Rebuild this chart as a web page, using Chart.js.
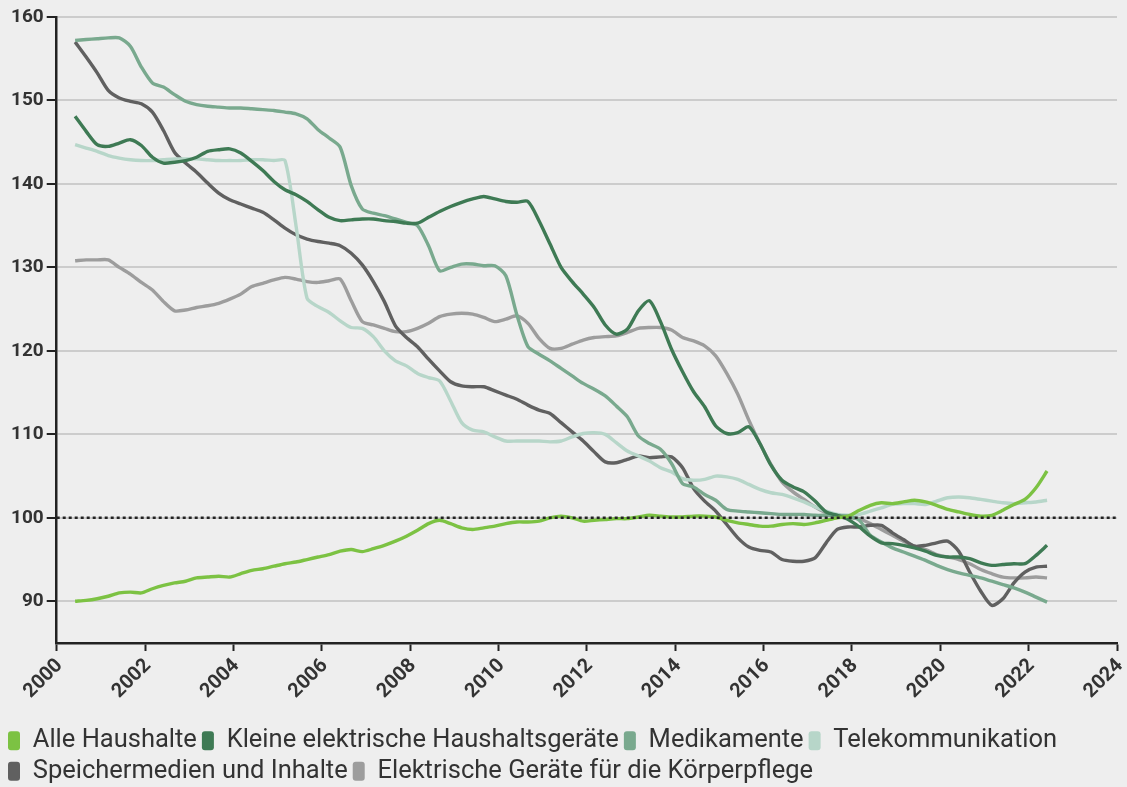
<!DOCTYPE html>
<html lang="de">
<head>
<meta charset="utf-8">
<title>Preisindex</title>
<script src="https://cdn.jsdelivr.net/npm/chart.js@4"></script>
<style>
  html, body { margin: 0; padding: 0; background: #eeeeee; overflow: hidden; }
  #wrap { width: 1127px; height: 787px; overflow: hidden; }
</style>
</head>
<body>
<div id="wrap"><canvas id="priceChart" width="1127" height="794"></canvas></div>
<script>
// Quartalswerte, Juni 2000 bis Juni 2022
const dates = [
  "2000-06", "2000-09", "2000-12",
  "2001-03", "2001-06", "2001-09", "2001-12",
  "2002-03", "2002-06", "2002-09", "2002-12",
  "2003-03", "2003-06", "2003-09", "2003-12",
  "2004-03", "2004-06", "2004-09", "2004-12",
  "2005-03", "2005-06", "2005-09", "2005-12",
  "2006-03", "2006-06", "2006-09", "2006-12",
  "2007-03", "2007-06", "2007-09", "2007-12",
  "2008-03", "2008-06", "2008-09", "2008-12",
  "2009-03", "2009-06", "2009-09", "2009-12",
  "2010-03", "2010-06", "2010-09", "2010-12",
  "2011-03", "2011-06", "2011-09", "2011-12",
  "2012-03", "2012-06", "2012-09", "2012-12",
  "2013-03", "2013-06", "2013-09", "2013-12",
  "2014-03", "2014-06", "2014-09", "2014-12",
  "2015-03", "2015-06", "2015-09", "2015-12",
  "2016-03", "2016-06", "2016-09", "2016-12",
  "2017-03", "2017-06", "2017-09", "2017-12",
  "2018-03", "2018-06", "2018-09", "2018-12",
  "2019-03", "2019-06", "2019-09", "2019-12",
  "2020-03", "2020-06", "2020-09", "2020-12",
  "2021-03", "2021-06", "2021-09", "2021-12",
  "2022-03", "2022-06"
];

const alleHaushalte = [
  90.0, 90.1, 90.3, 90.6, 91.0, 91.1, 91.0, 91.5, 91.9, 92.2,
  92.4, 92.8, 92.9, 93.0, 92.9, 93.3, 93.7, 93.9, 94.2, 94.5,
  94.7, 95.0, 95.3, 95.6, 96.0, 96.2, 95.95, 96.3, 96.7, 97.2,
  97.8, 98.5, 99.3, 99.7, 99.3, 98.8, 98.6, 98.8, 99.0, 99.3,
  99.5, 99.5, 99.6, 100.0, 100.2, 100.0, 99.6, 99.7, 99.8, 99.9,
  99.9, 100.1, 100.3, 100.2, 100.1, 100.1, 100.2, 100.2, 100.1, 99.7,
  99.4, 99.2, 99.0, 99.0, 99.2, 99.3, 99.2, 99.4, 99.7, 100.0,
  100.2, 100.9, 101.5, 101.8, 101.7, 101.9, 102.1, 101.9, 101.5, 101.0,
  100.7, 100.4, 100.2, 100.3, 100.9, 101.6, 102.2, 103.6, 105.6
];

const kleineGeraete = [
  148.1, 146.3, 144.7, 144.5, 144.9, 145.3, 144.6, 143.2, 142.5, 142.6,
  142.8, 143.2, 143.9, 144.1, 144.2, 143.7, 142.7, 141.6, 140.3, 139.3,
  138.7, 137.9, 136.9, 136.0, 135.6, 135.7, 135.8, 135.8, 135.6, 135.5,
  135.3, 135.3, 136.0, 136.7, 137.3, 137.8, 138.2, 138.5, 138.2, 137.9,
  137.8, 137.9, 135.6, 132.8, 130.0, 128.3, 126.8, 125.2, 123.1, 122.0,
  122.6, 124.8, 126.0, 123.5, 120.2, 117.5, 115.1, 113.3, 111.0, 110.1,
  110.2, 110.9, 108.9, 106.3, 104.5, 103.7, 103.1, 102.0, 100.7, 100.3,
  99.8, 98.9, 97.8, 97.0, 96.9, 96.7, 96.4, 96.0, 95.5, 95.3,
  95.3, 95.1, 94.6, 94.3, 94.4, 94.5, 94.5, 95.5, 96.7
];

const medikamente = [
  157.2, 157.3, 157.4, 157.5, 157.5, 156.5, 154.0, 152.1, 151.6, 150.7,
  149.9, 149.5, 149.3, 149.2, 149.1, 149.1, 149.0, 148.9, 148.8, 148.6,
  148.4, 147.8, 146.5, 145.5, 144.4, 139.8, 137.0, 136.5, 136.2, 135.8,
  135.4, 135.0, 132.6, 129.6, 130.0, 130.4, 130.4, 130.2, 130.2, 129.0,
  124.3, 120.5, 119.6, 118.8, 117.9, 117.0, 116.1, 115.4, 114.6, 113.4,
  112.1, 109.8, 108.9, 108.2, 106.5, 104.1, 103.7, 102.8, 102.1, 101.0,
  100.8, 100.7, 100.6, 100.5, 100.4, 100.4, 100.4, 100.3, 100.3, 100.3,
  100.2, 99.7, 97.9, 97.1, 96.4, 95.9, 95.4, 94.9, 94.3, 93.8,
  93.4, 93.1, 92.8, 92.4, 92.0, 91.6, 91.1, 90.5, 89.9
];

const telekommunikation = [
  144.7, 144.3, 143.9, 143.4, 143.1, 142.9, 142.8, 142.8, 142.9, 143.0,
  143.0, 143.0, 142.9, 142.8, 142.8, 142.8, 142.9, 142.9, 142.8, 142.8,
  135.0, 126.3, 125.3, 124.6, 123.6, 122.8, 122.7, 121.7, 120.0, 118.8,
  118.2, 117.3, 116.8, 116.4, 114.0, 111.4, 110.5, 110.3, 109.7, 109.2,
  109.2, 109.2, 109.2, 109.1, 109.2, 109.7, 110.1, 110.2, 110.0, 109.0,
  108.0, 107.4, 106.8, 106.0, 105.5, 104.7, 104.5, 104.6, 105.0, 104.9,
  104.6, 104.0, 103.4, 103.0, 102.8, 102.4, 101.9, 101.3, 100.8, 100.4,
  100.3, 100.4, 100.8, 101.2, 101.6, 101.7, 101.7, 101.6, 102.0, 102.4,
  102.5, 102.4, 102.2, 102.0, 101.8, 101.7, 101.8, 101.9, 102.1
];

const speichermedien = [
  157.0, 155.2, 153.3, 151.2, 150.3, 149.9, 149.6, 148.6, 146.4, 143.8,
  142.5, 141.4, 140.1, 138.9, 138.1, 137.6, 137.1, 136.6, 135.7, 134.7,
  133.9, 133.4, 133.1, 132.9, 132.6, 131.7, 130.3, 128.3, 125.9, 123.0,
  121.6, 120.5, 119.0, 117.6, 116.3, 115.8, 115.7, 115.7, 115.2, 114.7,
  114.2, 113.5, 112.9, 112.5, 111.4, 110.3, 109.2, 107.9, 106.7, 106.6,
  107.0, 107.4, 107.2, 107.3, 107.3, 106.0, 103.5, 102.0, 100.8, 99.2,
  97.6, 96.5, 96.1, 95.9, 95.0, 94.8, 94.8, 95.2, 97.0, 98.6,
  98.9, 98.9, 99.1, 99.1, 98.2, 97.4, 96.6, 96.7, 97.0, 97.2,
  96.0, 93.5, 91.2, 89.5, 90.3, 92.2, 93.5, 94.1, 94.2
];

const koerperpflege = [
  130.8, 130.9, 130.9, 130.9, 130.0, 129.2, 128.2, 127.3, 125.9, 124.8,
  124.9, 125.2, 125.4, 125.7, 126.2, 126.8, 127.7, 128.1, 128.5, 128.8,
  128.6, 128.3, 128.2, 128.4, 128.6, 126.0, 123.5, 123.1, 122.7, 122.3,
  122.3, 122.7, 123.3, 124.1, 124.4, 124.5, 124.4, 124.0, 123.5, 123.8,
  124.2, 123.3, 121.5, 120.3, 120.3, 120.8, 121.3, 121.6, 121.7, 121.8,
  122.2, 122.7, 122.8, 122.8, 122.5, 121.6, 121.2, 120.6, 119.4, 117.3,
  114.8, 111.7, 108.9, 106.4, 104.3, 103.1, 102.2, 101.3, 100.6, 100.1,
  100.0, 99.9, 99.3, 98.6, 97.9, 97.2, 96.6, 96.2, 95.6, 95.3,
  95.0, 94.5, 93.8, 93.3, 92.9, 92.8, 92.8, 92.9, 92.8
];

// Basisjahr-Linie (2018 = 100)
const baseYears = [2000, 2024];
const baseValue = 100;

const xValues = dates.map(d => {
  const [y, m] = d.split("-").map(Number);
  return y + (m - 1) / 12;
});
const toPoints = arr => arr.map((v, i) => ({ x: xValues[i], y: v }));

const series = [
  { label: "Alle Haushalte", data: alleHaushalte, color: "#7cc243" },
  { label: "Kleine elektrische Haushaltsgeräte", data: kleineGeraete, color: "#3e7a54" },
  { label: "Medikamente", data: medikamente, color: "#79a98e" },
  { label: "Telekommunikation", data: telekommunikation, color: "#b7d6c9" },
  { label: "Speichermedien und Inhalte", data: speichermedien, color: "#606060" },
  { label: "Elektrische Geräte für die Körperpflege", data: koerperpflege, color: "#9d9d9d" }
];

const datasets = [
  {
    label: "basis",
    data: baseYears.map(x => ({ x: x, y: baseValue })),
    borderColor: "#222",
    borderWidth: 2.5,
    borderDash: [3, 3],
    tension: 0,
    pointRadius: 0
  }
].concat(series.map(s => ({
  label: s.label,
  data: toPoints(s.data),
  borderColor: s.color,
  backgroundColor: s.color,
  borderWidth: 3.4,
  tension: 0.25,
  pointRadius: 0
})));

const ctx = document.getElementById("priceChart").getContext("2d");

new Chart(ctx, {
  type: "line",
  data: { datasets: datasets },
  options: {
    responsive: false,
    devicePixelRatio: 1,
    animation: false,
    layout: { padding: { left: 3, right: 10, top: 17, bottom: 0 } },
    plugins: {
      tooltip: { enabled: false },
      legend: {
        position: "bottom",
        align: "start",
        labels: {
          color: "#333",
          font: { family: "Roboto", size: 25.5 },
          boxWidth: 12,
          boxHeight: 19,
          padding: 5,
          useBorderRadius: true,
          borderRadius: 3,
          filter: item => item.datasetIndex !== 0,
          generateLabels: chart => {
            const items = Chart.defaults.plugins.legend.labels.generateLabels(chart);
            return items.map(it => Object.assign(it, { lineWidth: 0 }));
          }
        }
      }
    },
    scales: {
      x: {
        type: "linear",
        min: 2000,
        max: 2024,
        afterFit: axis => {
          axis.height = 80;
          axis.paddingRight = 0;
        },
        ticks: {
          stepSize: 2,
          minRotation: 45,
          maxRotation: 45,
          color: "#333",
          padding: 3,
          labelOffset: 3,
          font: { family: "Roboto", size: 20, weight: "bold" },
          callback: v => String(v)
        },
        grid: {
          drawOnChartArea: false,
          tickLength: 8,
          tickColor: "#222",
          tickWidth: 2
        },
        border: { color: "#222", width: 2.5 }
      },
      y: {
        min: 85,
        max: 160,
        afterFit: axis => { axis.width += 5; },
        ticks: {
          stepSize: 10,
          color: "#333",
          padding: 3,
          font: { family: "Roboto", size: 19, weight: "bold" }
        },
        afterBuildTicks: axis => {
          axis.ticks = axis.ticks.filter(t => t.value % 10 === 0);
        },
        grid: {
          color: "#cccccc",
          lineWidth: 2,
          tickLength: 10,
          tickColor: "#222",
          tickWidth: 2
        },
        border: { color: "#222", width: 2.5 }
      }
    }
  }
});
</script>
</body>
</html>
